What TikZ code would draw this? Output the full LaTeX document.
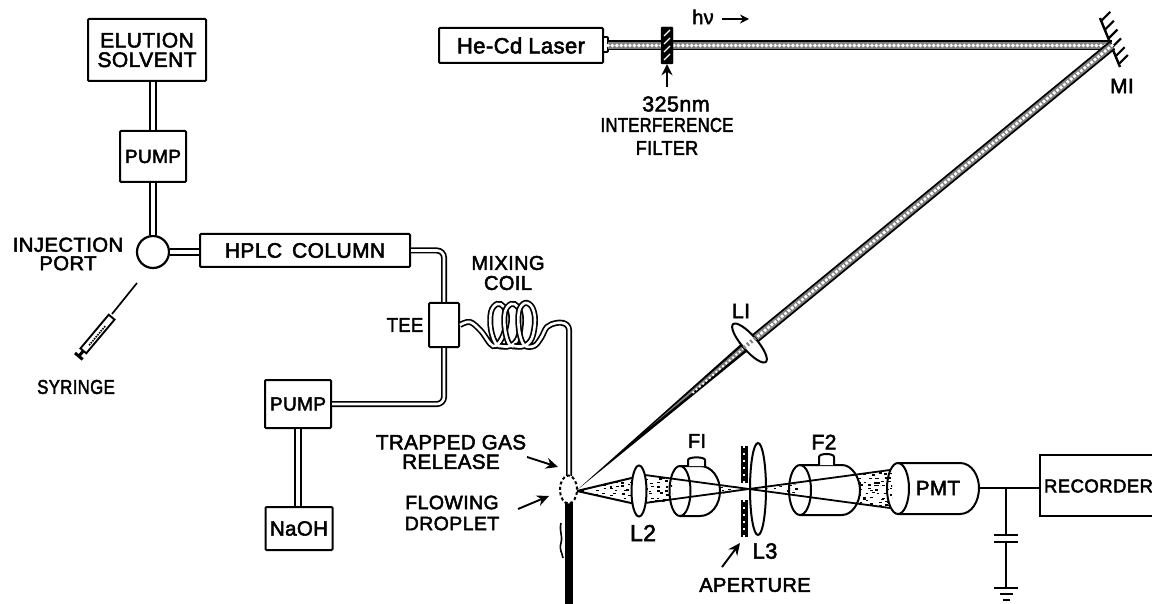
\documentclass[tikz,border=0pt]{standalone}
\usepackage{fontspec}
\setmainfont{Liberation Sans}[FakeBold=2.5]
\usetikzlibrary{arrows.meta,shapes.geometric,calc}
\newcommand\fs[2]{\fontsize{#1}{#2}\selectfont\addfontfeature{FakeBold=2.5,LetterSpace=2}}
\newcommand\lab{\fs{20}{20}}
\newcommand\speck[4]{% polygon, xrange start, step, xrange end
  \begin{scope}\clip #1;
  \foreach \x in {#2,#3,...,#4} \foreach \y in {466,470,...,516}{
    \pgfmathsetmacro\dx{3*rand}\pgfmathsetmacro\dy{1.5*rand}
    \draw[line width=1.4pt] (\x+\dx,\y+\dy) -- ++(2.8,0);}
  \end{scope}}
\tikzset{
  box/.style={draw,line width=2pt,rounded corners=1pt,fill=white,inner sep=0pt,font=\lab,align=center},
  txt/.style={inner sep=0pt,font=\lab,align=center},
  tube/.style={draw=black,line width=1.9pt,double=white,double distance=3.8pt},
  capil/.style={draw=black,line width=1.7pt,double=white,double distance=2.6pt,rounded corners=7pt},
  wire/.style={line width=2pt},
  lens/.style={ellipse,draw,line width=2pt,fill=white,inner sep=0pt},
  ptr/.style={line width=1.9pt,-{Stealth[length=12pt,width=11pt]}},
  beamblack/.style={line width=10pt,draw=black},
  beamwhite/.style={line width=6.4pt,draw=black!50},
  beamdots/.style={line width=3.9pt,draw=white,line cap=round,dash pattern=on 0pt off 4.4pt},
  cyl/.style={line width=2pt,fill=white},
}
\begin{document}
\begin{tikzpicture}[x=1pt,y=-1pt]
\useasboundingbox (0,0) rectangle (1152,604);
% ---- nodes: left chromatography
\node[box,minimum width=118pt,minimum height=62pt,font=\fs{21}{19.5}] (elu) at (147,50) {ELUTION\\SOLVENT};
\node[box,minimum width=66pt,minimum height=51pt,font=\fs{19}{19}] (pa) at (153,156.5) {PUMP};
\node[circle,draw,line width=2.2pt,minimum size=32pt,inner sep=0pt] (inj) at (153,252) {};
\node[box,minimum width=210pt,minimum height=33pt,font=\fs{21}{21}] (hplc) at (305,250.5) {HPLC\hspace{10pt}COLUMN};
\node[box,minimum width=30pt,minimum height=44pt] (tee) at (444,325) {};
\node[box,minimum width=66pt,minimum height=48pt,font=\fs{19}{19}] (pb) at (298,404) {PUMP};
\node[box,minimum width=67pt,minimum height=43pt,font=\fs{20.5}{20}] (naoh) at (299,528.5) {NaOH};
\node[txt,font=\fs{20.3}{18.5}] (injl) at (68,254) {INJECTION\\PORT};
\node[txt,font=\fs{20}{20},xscale=.84] (syr) at (76,387) {SYRINGE};
\node[txt,font=\fs{20}{20},xscale=.92] (teel) at (405,325) {TEE};
\node[txt,font=\fs{20}{20}] (mix) at (508,273) {MIXING\\COIL};
\coordinate (dtop) at (569,476);
\coordinate (dbot) at (569,503);
\coordinate (cend) at (569,604);
% tubes
\draw[tube] (pa.north) -- (pa.north |- elu.south);
\draw[tube] (pa.south) -- (inj.north);
\draw[tube] (inj.east) -- (inj.east -| hplc.west);
\draw[tube] (pb.south) -- (pb.south |- naoh.north);
\draw[capil] (hplc.east) -| (tee.north);
\draw[capil] (tee.south) |- (pb.east);
% coil
\draw[capil,rounded corners=0pt] plot[smooth,tension=0.6] coordinates {(tee.east) (470,322) (481,331) (493,346) (502,338) (507,320) (504,307) (497,304) (491,312) (491,330) (497,345) (507,346)};
\draw[capil,rounded corners=0pt] plot[smooth,tension=0.6] coordinates {(500,346) (510,346) (518,338) (521,320) (518,307) (511,304) (505,312) (505,330) (510,345) (520,346)};
\draw[capil,rounded corners=0pt] plot[smooth,tension=0.6] coordinates {(514,346) (524,346) (532,338) (535,320) (532,307) (525,303) (519,311) (519,330) (524,345) (534,346) (541,338) (547,327) (556,323) (564,323)};
\draw[capil] (562,323) -- (569,323) -- (dtop);
% droplet
\draw[line width=8pt] (dbot) -- (cend);
\draw[line width=1.6pt] (561,523) .. controls (559,532) and (563,535) .. (561,543) .. controls (559,550) and (562,552) .. (563,558);
\node[ellipse,draw,line width=2pt,dash pattern=on 3pt off 2.5pt,fill=white,minimum width=17pt,minimum height=28pt,inner sep=0pt] (drop) at (568.5,489.5) {};
% syringe
\coordinate (sa) at (137,283);
\coordinate (sb) at (112,314);
\draw[line width=1.7pt] (sa) -- (sb);
\begin{scope}[shift={(97.5,334)},rotate=50]
  \draw[line width=1.9pt,fill=white] (-22,-3.8) rectangle (22,3.8);
  \draw[line width=1.6pt,densely dotted] (-14,0.8) -- (12,0.8);
  \draw[line width=3pt] (-22,0) -- (-29,0);
  \draw[line width=3pt] (-29,-5) -- (-29,5);
\end{scope}
% ---- optics top
\node[box,minimum width=164pt,minimum height=35pt,font=\fs{22}{22}] (laser) at (521,45.5) {He-Cd\hspace{6pt}Laser};
\draw[line width=1.8pt,fill=white,rounded corners=1pt] (603,37) rectangle (608,52);
\coordinate (ls) at (608,45.5);
\coordinate (m1) at (1112,45.5);
\coordinate (apex) at (577,490);
\draw[beamblack] (ls) -- (m1);
\draw[beamwhite] (ls) -- (m1);
\draw[beamdots] (ls) -- (m1);
% mirror
\draw[line width=2.4pt] (1100,18) -- (1120,67);
\foreach \t in {0.06,0.24,0.42,0.60,0.78,0.94}{
  \draw[line width=2.2pt] ($(1100,18)!\t!(1120,67)$) -- ++(9,-9);}
% filter
\node[draw,fill=black,rounded corners=1pt,minimum width=12pt,minimum height=37pt,inner sep=0pt] (filt) at (667,45.5) {};
\foreach \y in {33,41,49,57}{\draw[white,line width=1.2pt] (664,\y+3) -- (670,\y-3);}
\coordinate (filtp) at (667,87);
\draw[line width=1.9pt,-{Stealth[length=11pt,width=11pt]}] (filtp) -- (filt.south);
\node[txt,font=\fs{21.5}{20}] (f325) at (676,104) {325nm};
\node[txt,font=\fs{20}{20},xscale=.83] (fint) at (667,125) {INTERFERENCE};
\node[txt,font=\fs{20}{20},xscale=.9] (ffil) at (667,148) {FILTER};
\node[txt,font=\fs{20}{20}] (hnu) at (703,17) {hν};
\coordinate (ha) at (722,19);\coordinate (hb) at (749,19);
\draw[line width=2pt,-{Stealth[length=9pt,width=9pt]}] (ha) -- (hb);
\node[txt,font=\fs{21}{21}] (mil) at (1122,86) {MI};
% angled beam
\coordinate (l1c) at (749.5,343);
\draw[beamblack] (m1) -- (l1c);
\draw[beamwhite] (m1) -- (l1c);
\draw[beamdots] (m1) -- (l1c);
\fill (752.7,346.9) -- (746.3,339.1) -- (apex) -- cycle;
\fill[black!50] (751,345) -- (748,341) -- (650,427) -- cycle;
\draw[line width=2.8pt,draw=white,line cap=round,dash pattern=on 0pt off 4.4pt] (l1c) -- (690,395);
\node[lens,minimum width=50pt,minimum height=15pt,rotate=-49] (l1) at (l1c) {};
\draw[line width=4pt,draw=black!50,dash pattern=on 2pt off 2.4pt] ($(l1c)+(6,-5)$) -- ($(l1c)+(-6,5)$);
\node[txt,font=\fs{21}{21}] (l1l) at (741,311) {LI};
% ---- collection optics
\pgfmathsetseed{11}
\speck{(575,491) -- (640,476) -- (640,505) -- cycle}{580}{587}{640}
\speck{(640,475) -- (672,478) -- (672,501) -- (640,504) -- cycle}{644}{651}{672}
\speck{(720,484) -- (745,488) -- (745,490) -- (720,494) -- cycle}{722}{729}{745}
\speck{(765,488) -- (800,484) -- (800,494) -- cycle}{766}{773}{800}
\speck{(858,474) -- (892,470) -- (892,508) -- (858,503) -- cycle}{860}{866}{892}
\draw[line width=2pt] (577,491) -- (640,476);
\draw[line width=2pt] (577,491) -- (640,505);
% F1
\draw[cyl] (680,466) -- (700,466) .. controls (712,466) and (720,478) .. (720,491) .. controls (720,504) and (712,516) .. (700,516) -- (680,516);
\draw[cyl] (688,466) -- (688,460) .. controls (688,456.5) and (705,456.5) .. (705,460) -- (705,466);
\node[ellipse,draw,line width=2pt,minimum width=21pt,minimum height=50pt,inner sep=0pt] (f1) at (680,491) {};
% F2
\draw[cyl] (800,465) -- (842,465) .. controls (852,465) and (860,478) .. (860,490) .. controls (860,503) and (852,515) .. (842,515) -- (800,515);
\draw[cyl] (819,465) -- (819,457) .. controls (819,453) and (834,453) .. (834,457) -- (834,465);
\node[ellipse,draw,line width=2pt,minimum width=22pt,minimum height=50pt,inner sep=0pt] (f2) at (800,490) {};
% PMT
\draw[cyl] (898,463) -- (960,463) .. controls (972,463) and (979,476) .. (979,488) .. controls (979,501) and (972,514) .. (960,514) -- (898,514);
\node[ellipse,draw,line width=2pt,minimum width=22pt,minimum height=51pt,inner sep=0pt] (pmt) at (898,488.5) {};
\node[txt,font=\fs{20.5}{20}] (pmtl) at (938,488) {PMT};
% rays
\coordinate (ra1) at (645,475);\coordinate (ra2) at (890,508);
\coordinate (rb1) at (645,503);\coordinate (rb2) at (890,470);
\draw[line width=1.8pt] (ra1) -- (ra2);
\draw[line width=1.8pt] (rb1) -- (rb2);
% L2, L3, aperture
\node[lens,minimum width=15pt,minimum height=51pt] (l2) at (639,491) {};
\node[ellipse,draw,line width=2pt,inner sep=0pt,minimum width=16pt,minimum height=92pt] (l3) at (758,489) {};
\node[fill=black,minimum width=7pt,minimum height=37pt,inner sep=0pt] (apu) at (744.3,464.5) {};
\node[fill=black,minimum width=7pt,minimum height=37pt,inner sep=0pt] (apd) at (744.3,518.5) {};
\draw[white,line width=2pt,dash pattern=on 2pt off 5pt] (apu.north) -- (apu.south);
\draw[white,line width=2pt,dash pattern=on 2pt off 5pt] (apd.north) -- (apd.south);
\node[txt,font=\fs{23}{23}] (l2l) at (643,533) {L2};
\node[txt,font=\fs{22}{22}] (l3l) at (765,551) {L3};
\node[txt,font=\fs{20}{20}] (f1l) at (697,441) {FI};
\node[txt,font=\fs{21}{21}] (f2l) at (824,442) {F2};
\node[txt,font=\fs{20}{20}] (apl) at (755,585) {APERTURE};
\coordinate (apt) at (722,567);
\draw[ptr] (apt) -- (740,543);
% droplet labels
\node[txt,font=\fs{20.6}{19.5}] (trap) at (451,452) {TRAPPED\hspace{6pt}GAS\\RELEASE};
\node[txt,font=\fs{19.5}{21}] (flow) at (452,513) {FLOWING\\DROPLET};
\coordinate (ta) at (527,457);\coordinate (tb) at (558,467);
\coordinate (fa) at (518,509);\coordinate (fb) at (549,496);
\draw[ptr] (ta) -- (tb);
\draw[ptr] (fa) -- (fb);
% recorder
\node[inner sep=0pt,minimum width=112pt,minimum height=61pt] (rec) at (1096,485.5) {};
\node[txt,font=\fs{18.6}{19}] (recl) at (1098.5,486) {RECORDER};
\draw[line width=2pt] (rec.north east) -- (rec.north west) -- (rec.south west) -- (rec.south east);
\coordinate (jn) at (1006,488);
\coordinate (cap1) at (1006,535);\coordinate (cap2) at (1006,542);\coordinate (gnd) at (1006,588);
\draw[wire] (979,488) -- (1040,488);
\draw[wire] (jn) -- (cap1);
\draw[wire] (cap2) -- (gnd);
\draw[line width=2.2pt] (994,535) -- (1018,535);
\draw[line width=2.2pt] (994,542) -- (1018,542);
\draw[line width=2.2pt] (994,588) -- (1018,588);
\draw[line width=2.2pt] (1000,594) -- (1013,594);
\draw[line width=2.2pt] (1003,600) -- (1010,600);
\end{tikzpicture}
\end{document}
